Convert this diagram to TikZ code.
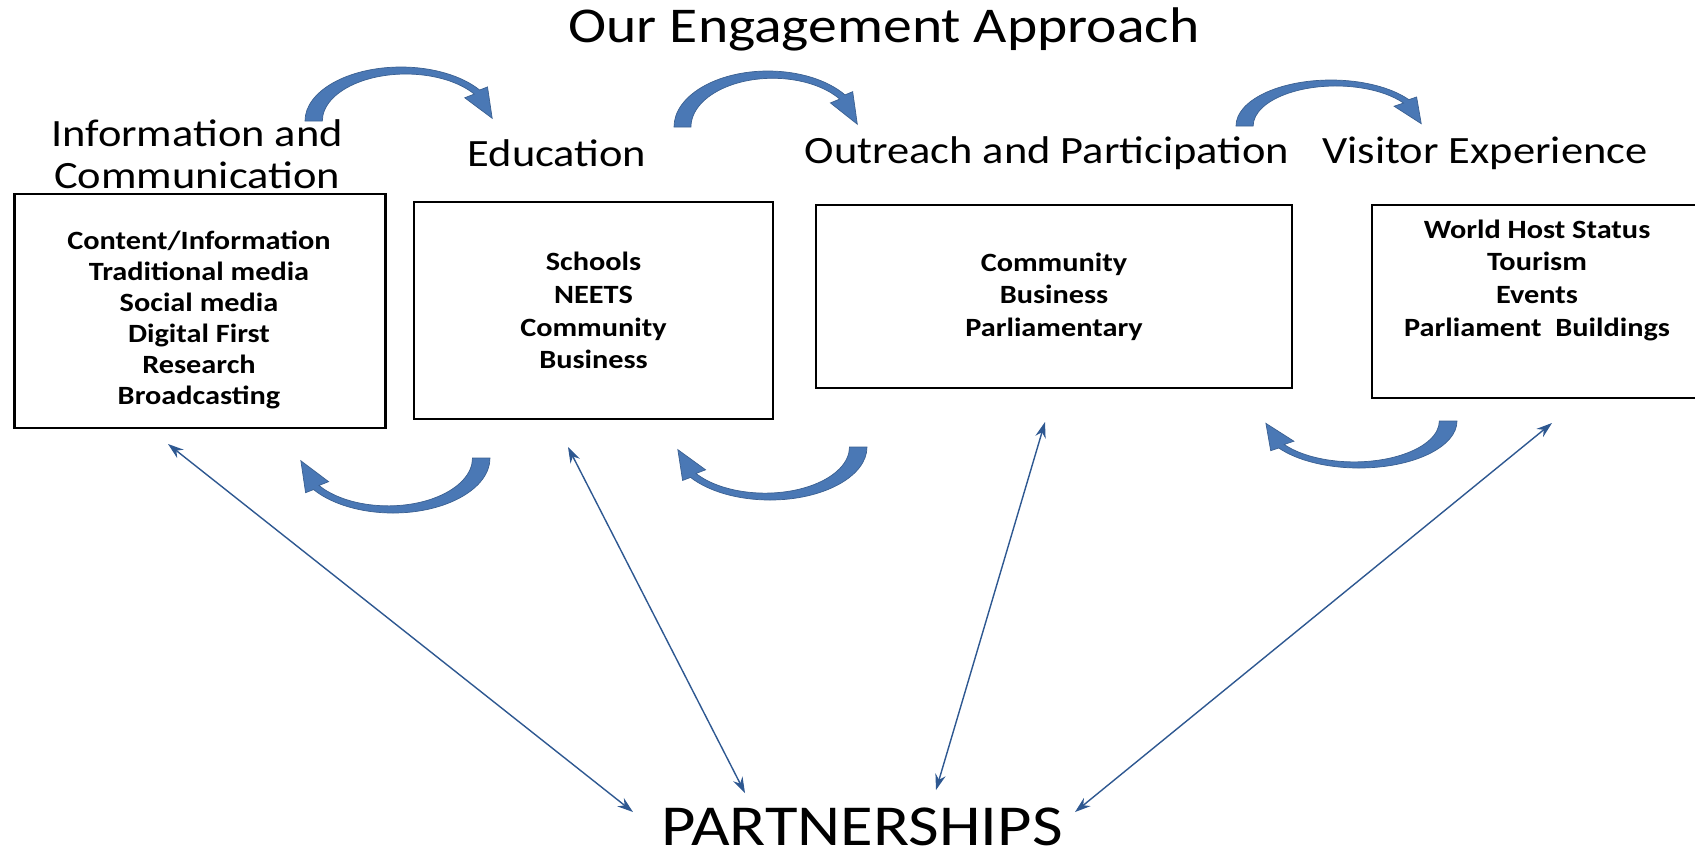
\documentclass[tikz,border=0pt]{standalone}
\usepackage{fontspec}
\setmainfont{Carlito}[FakeStretch=1.15]
\usetikzlibrary{arrows.meta,positioning}

\definecolor{arcblue}{RGB}{74,120,181}
\definecolor{linkblue}{RGB}{46,88,145}

\begin{document}
\begin{tikzpicture}[x=0.02cm, y=-0.02cm,
  heading/.style={font=\fontsize{22}{24}\selectfont, align=center, inner sep=0pt},
  box/.style={draw, line width=1.6pt, align=center, inner sep=0pt, font=\bfseries\fontsize{15}{18.6}\selectfont},
  items/.style={align=center, inner sep=0pt, font=\bfseries\fontsize{15}{18.6}\selectfont},
  link/.style={draw=linkblue, line width=0.8pt, {Stealth[length=9pt,width=6pt]}-{Stealth[length=9pt,width=6pt]}},
  turn/.style={fill=arcblue, draw=arcblue!80!black, line width=0.4pt},
]
\useasboundingbox (0,0) rectangle (1695,850);

\node[font=\fontsize{28.5}{30}\selectfont, inner sep=0pt] (title) at (884,29) {Our Engagement Approach};

% headings
\node[heading] (info) at (197,154) {Information and\\Communication};
\node[heading] (edu) at (557,153) {Education};
\node[heading] (outreach) at (1047,153) {Outreach and Participation};
\node[heading] (visitor) at (1485,153) {Visitor Experience};

% boxes
\node[box, minimum width=7.42cm, minimum height=4.68cm] (box1) at (200,311) {};
\node[items, font=\bfseries\fontsize{15}{17.6}\selectfont] (infoitems) at (199,320)
  {Content/Information\\Traditional media\\Social media\\Digital First\\Research\\Broadcasting};
\node[box, minimum width=7.18cm, minimum height=4.34cm] (box2) at (593.5,310.5)
  {Schools\\NEETS\\Community\\Business};
\node[box, minimum width=9.52cm, minimum height=3.66cm] (box3) at (1054,296.5)
  {Community\\Business\\Parliamentary};
\node[box, minimum width=6.96cm, minimum height=3.86cm] (box4) at (1546,301.5) {};
\node[items] (visitems) at (1537,280)
  {World Host Status\\Tourism\\Events\\Parliament\ \ Buildings};

\node[font=\fontsize{33}{35}\selectfont, inner sep=0pt] (part) at (862,827) {PARTNERSHIPS};

% curved arrows between the strands
\foreach \cx/\cy/\rx/\ry in {401/121/96/-54, 768/127/94/-56, 1331/126/95/-46,
                              393/458/-97/55, 770/447/-97/53, 1359/421/-98/47}
  \filldraw[turn, shift={(\cx,\cy)}, xscale=\rx, yscale=\ry]
    (-1,0) arc[start angle=180, end angle=35, radius=1]
    -- (35:1.1) -- (0.95,0.05) -- (0.664,0.430) -- (0.763,0.499)
    arc[start angle=35, end angle=180, radius=0.87] -- cycle;

% links to partnerships
\coordinate (f1) at (168,444);
\coordinate (f2) at (568,447);
\coordinate (f3) at (1045,422);
\coordinate (f4) at (1552,423);
\coordinate (t1) at (633,812);
\coordinate (t2) at (745,793);
\coordinate (t3) at (936,790);
\coordinate (t4) at (1075,812);
\foreach \i in {1,...,4}
  \draw[link] (f\i) -- (t\i);

\end{tikzpicture}
\end{document}
